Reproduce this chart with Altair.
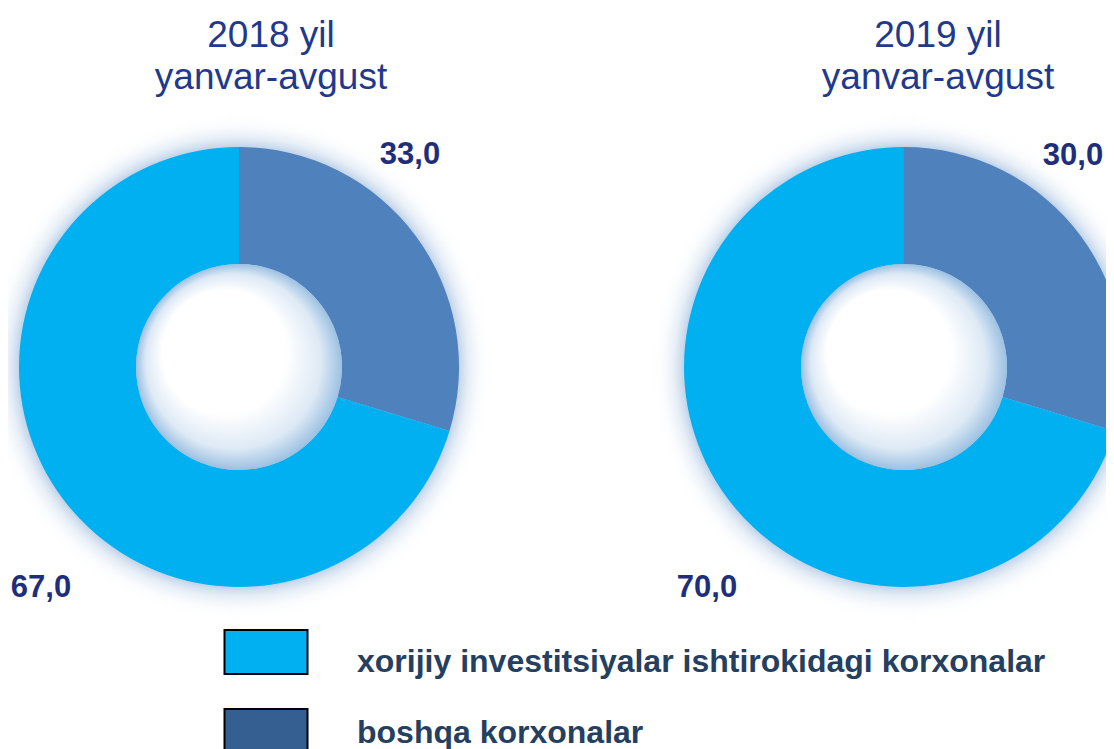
import altair as alt
import pandas as pd

# ---- data ----
categories = ["xorijiy investitsiyalar ishtirokidagi korxonalar", "boshqa korxonalar"]
slice_order = ["boshqa korxonalar", "xorijiy investitsiyalar ishtirokidagi korxonalar"]
years = ["2018 yil", "2019 yil"]
period = "yanvar-avgust"
# slice shares as drawn in the picture (boshqa, xorijiy)
shares_2018 = [29.7, 70.3]
shares_2019 = [29.7, 70.3]
# value labels as printed (boshqa, xorijiy)
labels_2018 = ["33,0", "67,0"]
labels_2019 = ["30,0", "70,0"]

donut_colors = ["#00B0F0", "#4F81BD"]
legend_colors = ["#00B0F0", "#365F91"]

FONT = "Liberation Sans"
TITLE_COLOR = "#1F3A8C"
VALUE_COLOR = "#1F2E7A"
LEGEND_TEXT_COLOR = "#243F60"

W, H = 1098, 741
R_OUT, R_IN, R_GLOW = 220, 103, 256

panels = [
    dict(year=years[0], shares=shares_2018, labels=labels_2018, cx=231, cy=359,
         tx=263, lab_pos=[(402, 156), (33, 589)]),
    dict(year=years[1], shares=shares_2019, labels=labels_2019, cx=896, cy=359,
         tx=930, lab_pos=[(1065, 157), (699, 589)]),
]

g0 = R_OUT / R_GLOW
glow_fill = alt.Gradient(
    gradient="radial",
    x1=0.5, y1=0.5, r1=0, x2=0.5, y2=0.5, r2=0.5,
    stops=[
        alt.GradientStop(offset=0, color="rgba(120,160,208,0.55)"),
        alt.GradientStop(offset=g0 - 0.01, color="rgba(120,160,208,0.55)"),
        alt.GradientStop(offset=g0 + 0.04, color="rgba(170,196,226,0.28)"),
        alt.GradientStop(offset=g0 + 0.09, color="rgba(220,230,242,0.10)"),
        alt.GradientStop(offset=1, color="rgba(255,255,255,0)"),
    ],
)
hole_fill = alt.Gradient(
    gradient="radial",
    x1=0.32, y1=0.32, r1=0, x2=0.5, y2=0.5, r2=0.5,
    stops=[
        alt.GradientStop(offset=0, color="#FFFFFF"),
        alt.GradientStop(offset=0.6, color="#FFFFFF"),
        alt.GradientStop(offset=0.85, color="#DDE9F5"),
        alt.GradientStop(offset=1, color="#9CC1E2"),
    ],
)

layers = []
for p in panels:
    df = pd.DataFrame({
        "category": slice_order,
        "share": p["shares"],
        "ord": list(range(len(slice_order))),
    })
    one = pd.DataFrame({"v": [1]})
    glow = alt.Chart(one).mark_arc(outerRadius=R_GLOW, innerRadius=0, fill=glow_fill).encode(
        theta=alt.Theta("v:Q", scale=alt.Scale(domain=[0, 1])),
        x=alt.value(p["cx"]), y=alt.value(p["cy"]),
    )
    donut = alt.Chart(df).mark_arc(outerRadius=R_OUT, innerRadius=R_IN).encode(
        theta=alt.Theta("share:Q", stack=True, scale=alt.Scale(domain=[0, 100])),
        color=alt.Color("category:N", scale=alt.Scale(domain=categories, range=donut_colors), legend=None),
        order=alt.Order("ord:Q"),
        x=alt.value(p["cx"]), y=alt.value(p["cy"]),
    )
    hole = alt.Chart(one).mark_arc(outerRadius=R_IN, innerRadius=0, fill=hole_fill).encode(
        theta=alt.Theta("v:Q", scale=alt.Scale(domain=[0, 1])),
        x=alt.value(p["cx"]), y=alt.value(p["cy"]),
    )
    t1 = alt.Chart(pd.DataFrame({"t": [p["year"]]})).mark_text(
        font=FONT, fontSize=37, color=TITLE_COLOR, align="center", baseline="alphabetic"
    ).encode(text="t:N", x=alt.value(p["tx"]), y=alt.value(39))
    t2 = alt.Chart(pd.DataFrame({"t": [period]})).mark_text(
        font=FONT, fontSize=37, color=TITLE_COLOR, align="center", baseline="alphabetic"
    ).encode(text="t:N", x=alt.value(p["tx"]), y=alt.value(81))
    layers += [glow, donut, hole, t1, t2]
    for lab, (lx, ly) in zip(p["labels"], p["lab_pos"]):
        layers.append(
            alt.Chart(pd.DataFrame({"t": [lab]})).mark_text(
                font=FONT, fontSize=31, fontWeight="bold", color=VALUE_COLOR,
                align="center", baseline="alphabetic"
            ).encode(text="t:N", x=alt.value(lx), y=alt.value(ly))
        )

leg_df = pd.DataFrame({"category": categories, "swatch": legend_colors})
swatches = alt.Chart(leg_df).mark_point(
    shape="M-1,-0.53L1,-0.53L1,0.53L-1,0.53Z", size=83 * 83, filled=True,
    stroke="#000000", strokeWidth=2, opacity=1,
).encode(
    x=alt.value(258),
    y=alt.Y("category:N", scale=alt.Scale(type="point", domain=categories, range=[644, 723], padding=0), axis=None),
    fill=alt.Fill("swatch:N", scale=None),
)
leg_text = alt.Chart(leg_df).mark_text(
    font=FONT, fontSize=32, fontWeight="bold", color=LEGEND_TEXT_COLOR,
    align="left", baseline="alphabetic"
).encode(
    x=alt.value(349),
    y=alt.Y("category:N", scale=alt.Scale(type="point", domain=categories, range=[664, 735], padding=0), axis=None),
    text="category:N",
)
layers += [swatches, leg_text]

chart = alt.layer(*layers).resolve_scale(
    y="independent", theta="independent", color="independent"
).properties(
    width=W, height=H, autosize=alt.AutoSizeParams(type="none"), padding=0,
    background="#FFFFFF",
).configure_view(stroke=None)

chart.save("out.html", embed_options={"renderer": "svg", "actions": False})
